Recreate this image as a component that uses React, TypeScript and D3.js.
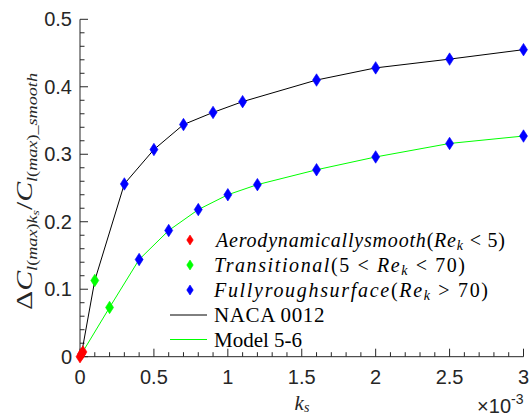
import React from "react";
import * as d3 from "d3";

// ks values in units of 1e-3
const xTicks = [0, 0.5, 1, 1.5, 2, 2.5, 3];
const yTicks = [0, 0.1, 0.2, 0.3, 0.4, 0.5];

const smoothKs = [0, 0.01, 0.02];
const smoothVal = [0, 0.004, 0.007];

const transKs = [0.1, 0.2];
const transVal = [0.113, 0.073];

const roughNacaKs = [0.3, 0.5, 0.7, 0.9, 1.1, 1.6, 2.0, 2.5, 3.0];
const roughNacaVal = [0.256, 0.307, 0.344, 0.362, 0.378, 0.41, 0.428, 0.441, 0.455];
const roughModelKs = [0.4, 0.6, 0.8, 1.0, 1.2, 1.6, 2.0, 2.5, 3.0];
const roughModelVal = [0.144, 0.187, 0.218, 0.24, 0.255, 0.277, 0.296, 0.316, 0.327];

const nacaKs = [0.01, 0.1, 0.3, 0.5, 0.7, 0.9, 1.1, 1.6, 2.0, 2.5, 3.0];
const nacaVal = [0.004, 0.113, 0.256, 0.307, 0.344, 0.362, 0.378, 0.41, 0.428, 0.441, 0.455];
const modelKs = [0.01, 0.2, 0.4, 0.6, 0.8, 1.0, 1.2, 1.6, 2.0, 2.5, 3.0];
const modelVal = [0.004, 0.073, 0.144, 0.187, 0.218, 0.24, 0.255, 0.277, 0.296, 0.316, 0.327];

const W = 529, H = 416;
const M = { left: 80, right: 523.5, top: 19.3, bottom: 356.7 };
const AX = "#262626";

function Diamond({ x, y, color, w = 8, h = 12.5 }: any) {
  const d = `M${x},${y - h / 2}L${x + w / 2},${y}L${x},${y + h / 2}L${x - w / 2},${y}Z`;
  return <path d={d} fill={color} stroke={color} strokeWidth={0.6} />;
}

export default function App() {
  const x = d3.scaleLinear().domain([0, 3]).range([M.left, M.right]);
  const y = d3.scaleLinear().domain([0, 0.5]).range([M.bottom, M.top]);
  const line = d3.line<[number, number]>().x((d) => x(d[0])).y((d) => y(d[1]));
  const xMinor = d3.range(0, 3.0001, 0.1);
  const yMinor = d3.range(0, 0.50001, 0.02);
  const nacaPts = nacaKs.map((k, i) => [k, nacaVal[i]] as [number, number]);
  const modelPts = modelKs.map((k, i) => [k, modelVal[i]] as [number, number]);
  const serif = "'Liberation Serif', 'Times New Roman', serif";
  const sans = "'Liberation Sans', Arial, sans-serif";
  const legY = [240, 265, 290, 315, 339.5];
  const legMx = 190;
  const legTx = 214;
  const lfs = 20;

  return (
    <svg width={W} height={H} style={{ position: "absolute", left: 0, top: 0, background: "#fff" }}>
      {/* axes */}
      <line x1={M.left} x2={M.right} y1={M.bottom} y2={M.bottom} stroke={AX} strokeWidth={1} />
      <line x1={M.left} x2={M.left} y1={M.top} y2={M.bottom} stroke={AX} strokeWidth={1} />
      {xMinor.map((v, i) => {
        const major = i % 5 === 0;
        return (
          <line key={"xm" + i} x1={x(v)} x2={x(v)} y1={M.bottom} y2={M.bottom - (major ? 8 : 4.5)} stroke={AX} strokeWidth={1} />
        );
      })}
      {yMinor.map((v, i) => {
        const major = i % 5 === 0;
        return (
          <line key={"ym" + i} x1={M.left} x2={M.left + (major ? 8 : 4.5)} y1={y(v)} y2={y(v)} stroke={AX} strokeWidth={1} />
        );
      })}
      {xTicks.map((v) => (
        <text key={"xt" + v} x={x(v)} y={384} textAnchor="middle" fontFamily={sans} fontSize={20} fill={AX}>
          {d3.format("~g")(v)}
        </text>
      ))}
      {yTicks.map((v) => (
        <text key={"yt" + v} x={72} y={y(v) + 7} textAnchor="end" fontFamily={sans} fontSize={20} fill={AX}>
          {d3.format("~g")(v)}
        </text>
      ))}
      <text x={M.right} y={413} textAnchor="end" fontFamily={sans} fontSize={20} fill={AX}>
        ×10<tspan fontSize={14} dy={-9}>-3</tspan>
      </text>
      {/* x label */}
      <text x={302} y={410} textAnchor="middle" fontFamily={serif} fontSize={21} fill={AX}>
        <tspan fontStyle="italic">k</tspan>
        <tspan fontStyle="italic" fontSize={14} dy={2}>s</tspan>
      </text>
      {/* y label */}
      <text transform={`translate(32,191.5) rotate(-90)`} textAnchor="middle" fontFamily={serif} fontSize={23} fill={AX}
        textLength={237} lengthAdjust="spacingAndGlyphs">
        <tspan>Δ</tspan>
        <tspan fontStyle="italic">C</tspan>
        <tspan fontStyle="italic" fontSize={14} dy={5}>l</tspan>
        <tspan fontSize={14}>(</tspan>
        <tspan fontStyle="italic" fontSize={14}>max</tspan>
        <tspan fontSize={14}>)</tspan>
        <tspan fontStyle="italic" fontSize={14}>k</tspan>
        <tspan fontStyle="italic" fontSize={10.5} dy={2}>s</tspan>
        <tspan dy={-7}>/</tspan>
        <tspan fontStyle="italic">C</tspan>
        <tspan fontStyle="italic" fontSize={14} dy={5}>l</tspan>
        <tspan fontSize={14}>(</tspan>
        <tspan fontStyle="italic" fontSize={14}>max</tspan>
        <tspan fontSize={14}>)</tspan>
        <tspan fontStyle="italic" fontSize={14}>_smooth</tspan>
      </text>
      {/* lines */}
      <path d={line(nacaPts) || ""} fill="none" stroke="#000" strokeWidth={1} />
      <path d={line(modelPts) || ""} fill="none" stroke="#00ff00" strokeWidth={1} />
      {/* markers */}
      {roughNacaKs.map((k, i) => <Diamond key={"bn" + i} x={x(k)} y={y(roughNacaVal[i])} color="#0000ff" />)}
      {roughModelKs.map((k, i) => <Diamond key={"bm" + i} x={x(k)} y={y(roughModelVal[i])} color="#0000ff" />)}
      {transKs.map((k, i) => <Diamond key={"g" + i} x={x(k)} y={y(transVal[i])} color="#00ff00" />)}
      {smoothKs.map((k, i) => <Diamond key={"r" + i} x={x(k)} y={y(smoothVal[i])} color="#ff0000" />)}
      {/* legend */}
      <Diamond x={legMx} y={legY[0]} color="#ff0000" w={6.5} h={10} />
      <Diamond x={legMx} y={legY[1]} color="#00ff00" w={6.5} h={10} />
      <Diamond x={legMx} y={legY[2]} color="#0000ff" w={6.5} h={10} />
      <line x1={170} x2={207} y1={legY[3]} y2={legY[3]} stroke="#000" strokeWidth={1} />
      <line x1={170} x2={207} y1={legY[4]} y2={legY[4]} stroke="#00ff00" strokeWidth={1} />
      <g fontFamily={serif} fontSize={lfs} fill="#000">
        <text x={legTx + 2} y={legY[0] + 7} textLength={289} lengthAdjust="spacing">
          <tspan fontStyle="italic">Aerodynamicallysmooth</tspan>(<tspan fontStyle="italic">Re</tspan>
          <tspan fontStyle="italic" fontSize={14} dy={3}>k</tspan>
          <tspan dy={-3}> &lt; 5)</tspan>
        </text>
        <text x={legTx} y={legY[1] + 7} textLength={251} lengthAdjust="spacing">
          <tspan fontStyle="italic">Transitional</tspan>(5 &lt; <tspan fontStyle="italic">Re</tspan>
          <tspan fontStyle="italic" fontSize={14} dy={3}>k</tspan>
          <tspan dy={-3}> &lt; 70)</tspan>
        </text>
        <text x={legTx} y={legY[2] + 7} textLength={274} lengthAdjust="spacing">
          <tspan fontStyle="italic">Fullyroughsurface</tspan>(<tspan fontStyle="italic">Re</tspan>
          <tspan fontStyle="italic" fontSize={14} dy={3}>k</tspan>
          <tspan dy={-3}> &gt; 70)</tspan>
        </text>
        <text x={legTx} y={legY[3] + 7} fontSize={21} letterSpacing={0.6}>NACA 0012</text>
        <text x={legTx} y={legY[4] + 7} fontSize={21}>Model 5-6</text>
      </g>
    </svg>
  );
}
